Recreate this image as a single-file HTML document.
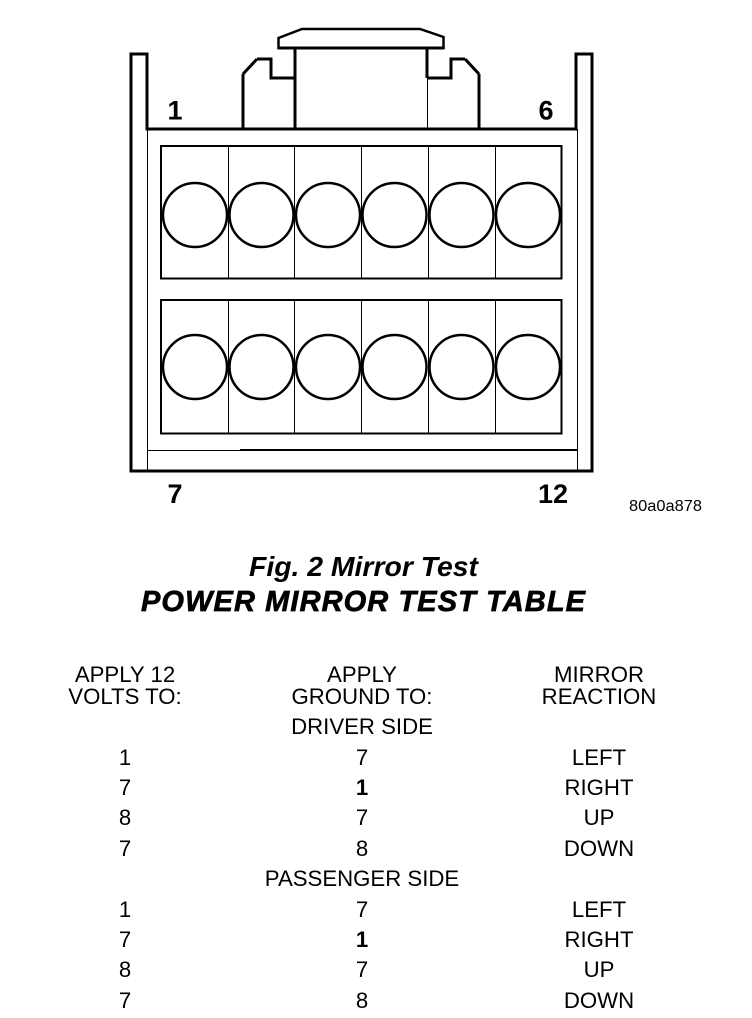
<!DOCTYPE html>
<html><head><meta charset="utf-8"><style>
html,body{margin:0;padding:0;background:#fff}
svg{display:block}
text{font-family:"Liberation Sans",sans-serif;fill:#000}
.t{font-size:22.2px;text-anchor:middle}
.n{font-size:27px;font-weight:bold;text-anchor:middle}
</style></head><body>
<svg width="752" height="1018" viewBox="0 0 752 1018" xmlns="http://www.w3.org/2000/svg">
<g fill="none" stroke="#000" stroke-width="3">
<g shape-rendering="crispEdges">
<path d="M147 129V54H131V471H592V54H576V129Z"/>
<path d="M295 48V129M427 48V78"/>
<path d="M295 78H271V59H257M243 74V129M427 78H451V59H465M479 74V129"/>
<rect x="161" y="146" width="400.500" height="132.500" stroke-width="2"/>
<rect x="161" y="300" width="400.500" height="133.500" stroke-width="2"/>
<path d="M240 450H577" stroke-width="2"/>
<path stroke-width="1" d="M147.500 129V471M577.500 129V471M427.500 78V129M147 450.500H240M228.500 146V278M294.500 146V278M361.500 146V278M428.500 146V278M495.500 146V278M228.500 300V433M294.500 300V433M361.500 300V433M428.500 300V433M495.500 300V433"/>
</g>
<path d="M278.500 48V38L302 29H420L443.500 37V48Z" stroke-width="2.500"/>
<path d="M257 59L243 74M465 59L479 74"/>
<path d="M278 48H444" stroke-width="3" shape-rendering="crispEdges"/>
<g stroke-width="2.500">
<circle cx="195" cy="215" r="32"/><circle cx="261.500" cy="215" r="32"/><circle cx="328" cy="215" r="32"/><circle cx="394.500" cy="215" r="32"/><circle cx="461.500" cy="215" r="32"/><circle cx="528" cy="215" r="32"/>
<circle cx="195" cy="367" r="32"/><circle cx="261.500" cy="367" r="32"/><circle cx="328" cy="367" r="32"/><circle cx="394.500" cy="367" r="32"/><circle cx="461.500" cy="367" r="32"/><circle cx="528" cy="367" r="32"/>
</g>
</g>
<text class="n" x="175" y="119.500">1</text>
<text class="n" x="546" y="119.500">6</text>
<text class="n" x="175" y="503">7</text>
<text class="n" x="553" y="503">12</text>
<text x="629" y="511" font-size="15.500" textLength="73" lengthAdjust="spacingAndGlyphs">80a0a878</text>
<text x="249" y="576" font-size="27.500" font-weight="bold" font-style="italic" textLength="229" lengthAdjust="spacingAndGlyphs">Fig. 2 Mirror Test</text>
<text x="141" y="611" font-size="29" font-weight="bold" font-style="italic" textLength="444" lengthAdjust="spacing" stroke="#000" stroke-width="0.700">POWER MIRROR TEST TABLE</text>
<text class="t" x="125" y="682">APPLY 12</text><text class="t" x="362" y="682">APPLY</text><text class="t" x="599" y="682">MIRROR</text>
<text class="t" x="125" y="704">VOLTS TO:</text><text class="t" x="362" y="704">GROUND TO:</text><text class="t" x="599" y="704">REACTION</text>
<text class="t" x="362" y="734">DRIVER SIDE</text>
<text class="t" x="125" y="765">1</text><text class="t" x="362" y="765">7</text><text class="t" x="599" y="765">LEFT</text>
<text class="t" x="125" y="795">7</text><text class="t" x="362" y="795" font-weight="bold">1</text><text class="t" x="599" y="795">RIGHT</text>
<text class="t" x="125" y="825">8</text><text class="t" x="362" y="825">7</text><text class="t" x="599" y="825">UP</text>
<text class="t" x="125" y="856">7</text><text class="t" x="362" y="856">8</text><text class="t" x="599" y="856">DOWN</text>
<text class="t" x="362" y="886">PASSENGER SIDE</text>
<text class="t" x="125" y="917">1</text><text class="t" x="362" y="917">7</text><text class="t" x="599" y="917">LEFT</text>
<text class="t" x="125" y="947">7</text><text class="t" x="362" y="947" font-weight="bold">1</text><text class="t" x="599" y="947">RIGHT</text>
<text class="t" x="125" y="977">8</text><text class="t" x="362" y="977">7</text><text class="t" x="599" y="977">UP</text>
<text class="t" x="125" y="1008">7</text><text class="t" x="362" y="1008">8</text><text class="t" x="599" y="1008">DOWN</text>
</svg>
</body></html>
